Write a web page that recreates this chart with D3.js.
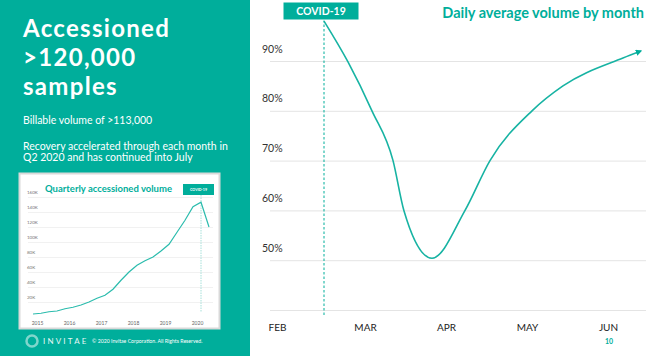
<!DOCTYPE html>
<html><head><meta charset="utf-8">
<script src="https://cdn.jsdelivr.net/npm/d3@7"></script>
<style>
html,body{margin:0;padding:0;background:#fff;}
svg{display:block;}
text{font-family:Lato,"Open Sans",sans-serif;}
</style></head>
<body>
<script>
// ---- Data: right chart (daily average volume, % of baseline) ----
const months = ["FEB","MAR","APR","MAY","JUN"];
const dailyPos = [0.494, 0.79, 1.086, 1.346, 1.48, 1.827, 2.235, 2.543, 3.062, 3.444, 4.185, 4.407]; // month index position
const dailyPct = [98, 89.8, 80, 70, 60, 50.4, 60, 70, 80, 85, 90.6, 92];
const pctGrid = [40, 50, 60, 70, 80, 90];
const covidPos = 0.494;

// ---- Data: inset chart (quarterly accessioned volume, thousands) Q4 2014 .. Q2 2020 ----
const quarterVol = [4,5,7,8,11,13,16,20,25,29,37,49,60,69,75,80,88,97,113,129,147,153,120];
const years = ["2015","2016","2017","2018","2019","2020"];
const volTicks = [20,40,60,80,100,120,140,160];
const covidQuarter = 21;

const teal = "#00ae9b";
const W = 646, H = 356;
const svg = d3.select("body").append("svg").attr("width", W).attr("height", H);

svg.append("defs").append("marker").attr("id","arr").attr("viewBox","0 0 10 10")
  .attr("refX",8).attr("refY",5).attr("markerWidth",4).attr("markerHeight",4).attr("orient","auto")
  .append("path").attr("d","M0,0 L10,5 L0,10 z").attr("fill",teal);

// left panel
svg.append("rect").attr("x",0).attr("y",0).attr("width",250).attr("height",H).attr("fill",teal);
const heads = ["Accessioned", ">120,000", "samples"];
svg.selectAll(".hd").data(heads).enter().append("text")
  .attr("x",23).attr("y",(d,i)=>37+i*29).attr("fill","#fff")
  .attr("font-size",24).attr("letter-spacing",1.3).attr("font-weight",700).text(d=>d);
svg.append("text").attr("x",23).attr("y",124).attr("fill","#fff").attr("font-size",10.5).text("Billable volume of >113,000");
svg.append("text").attr("x",23).attr("y",149.5).attr("fill","#fff").attr("font-size",10.5).text("Recovery accelerated through each month in");
svg.append("text").attr("x",23).attr("y",161).attr("fill","#fff").attr("font-size",10.5).text("Q2 2020 and has continued into July");

// inset
svg.append("rect").attr("x",19.5).attr("y",173.5).attr("width",200).attr("height",155).attr("fill","#fff").attr("stroke","#d9d9d9").attr("stroke-width",2);
const ix = d3.scaleLinear().domain([0, quarterVol.length-1]).range([33, 209]);
const iy = d3.scaleLinear().domain([0,160]).range([317,197]);
const ig = svg.append("g");
ig.append("g").attr("transform","translate(28,0)")
  .call(d3.axisLeft(iy).tickValues(volTicks).tickSize(-185).tickFormat(d=>d+"K"))
  .call(g=>g.select(".domain").remove())
  .call(g=>g.selectAll(".tick line").attr("stroke","#eeeeee").attr("stroke-width",0.8))
  .call(g=>g.selectAll(".tick text").attr("x",-1).attr("dy",-3.5).attr("text-anchor","start").attr("fill","#777").attr("font-size",4.5).attr("font-family","Lato,sans-serif"));
ig.append("g").attr("transform","translate(0,323)")
  .call(d3.axisBottom(ix).tickValues(years.map((y,i)=>i*4+0.5)).tickSize(0).tickFormat((d,i)=>years[i]))
  .call(g=>g.select(".domain").remove())
  .call(g=>g.selectAll(".tick text").attr("y",0).attr("dy","0.35em").attr("fill","#666").attr("font-size",5).attr("font-family","Lato,sans-serif"));
ig.append("line").attr("x1",ix(covidQuarter)).attr("x2",ix(covidQuarter)).attr("y1",195).attr("y2",312)
  .attr("stroke","#8fd8cf").attr("stroke-width",0.8).attr("stroke-dasharray","1.5,1");
ig.append("path").datum(quarterVol).attr("fill","none").attr("stroke","#2bbcad").attr("stroke-width",1.2)
  .attr("d", d3.line().x((d,i)=>ix(i)).y(d=>iy(d)));
ig.append("text").attr("x",45).attr("y",191.5).attr("fill",teal).attr("font-size",9.5).attr("font-weight",700).text("Quarterly accessioned volume");
ig.append("rect").attr("x",183).attr("y",184).attr("width",31).attr("height",11).attr("fill",teal);
ig.append("text").attr("x",198.5).attr("y",189.5).attr("dy","0.35em").attr("text-anchor","middle").attr("fill","#fff").attr("font-size",3.6).attr("font-weight",700).text("COVID-19");

// footer
svg.append("circle").attr("cx",32).attr("cy",341).attr("r",5.5).attr("fill","none").attr("stroke","#7fd6cc").attr("stroke-width",2.5);
svg.append("text").attr("x",43).attr("y",341).attr("dy","0.35em").attr("fill","#e6f7f5").attr("font-size",8).attr("letter-spacing",2.2).text("INVITAE");
svg.append("text").attr("x",92).attr("y",341).attr("dy","0.35em").attr("fill","#fff").attr("font-size",5.2).text("© 2020 Invitae Corporation. All Rights Reserved.");

// right chart
const x = d3.scaleLinear().domain([0, months.length-1]).range([284, 608]);
const y = d3.scaleLinear().domain([40, 90]).range([310, 61]);
const rg = svg.append("g");
rg.append("g").attr("transform","translate(270,0)")
  .call(d3.axisLeft(y).tickValues(pctGrid).tickSize(-(W-270)).tickFormat(d=>d===40?"":d+"%"))
  .call(g=>g.select(".domain").remove())
  .call(g=>g.selectAll(".tick line").attr("stroke","#e4e4e4").attr("stroke-width",1))
  .call(g=>g.selectAll(".tick text").attr("x",-8).attr("dy",-9).attr("text-anchor","start").attr("fill","#333").attr("font-size",10.5).attr("font-family","Lato,sans-serif"));
rg.append("g").attr("transform","translate(0,327)")
  .call(d3.axisBottom(x).tickValues(d3.range(months.length)).tickSize(0).tickFormat(i=>months[i]))
  .call(g=>g.select(".domain").remove())
  .call(g=>g.selectAll(".tick text").attr("y",0).attr("dy","0.35em").attr("fill","#222").attr("font-size",10).attr("font-family","Lato,sans-serif"))
  .call(g=>g.select(".tick text").attr("dx",-7));
rg.append("line").attr("x1",x(covidPos)).attr("x2",x(covidPos)).attr("y1",20).attr("y2",315)
  .attr("stroke",teal).attr("stroke-width",1).attr("stroke-dasharray","2.5,2");
const pts = dailyPos.map((t,i)=>({t, v: dailyPct[i]}));
rg.append("path").datum(pts).attr("fill","none").attr("stroke","#17b3a3").attr("stroke-width",1.6)
  .attr("marker-end","url(#arr)")
  .attr("d", d3.line().x(d=>x(d.t)).y(d=>y(d.v)).curve(d3.curveMonotoneX));
rg.append("rect").attr("x",283).attr("y",2).attr("width",76).attr("height",18).attr("fill",teal).attr("stroke","#fff");
rg.append("text").attr("x",321).attr("y",11.5).attr("dy","0.35em").attr("text-anchor","middle").attr("fill","#fff").attr("font-size",10.5).attr("font-weight",700).text("COVID-19");
rg.append("text").attr("x",644).attr("y",13).attr("dy","0.35em").attr("text-anchor","end").attr("fill",teal).attr("font-size",14.5).attr("font-weight",700).text("Daily average volume by month");
rg.append("text").attr("x",609).attr("y",342).attr("dy","0.35em").attr("text-anchor","middle").attr("fill",teal).attr("font-size",7).attr("font-weight",700).text("10");
</script>
</body></html>
